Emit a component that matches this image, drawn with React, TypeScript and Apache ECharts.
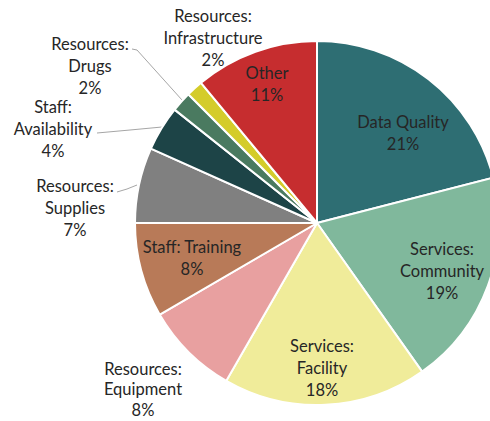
import React, { useEffect, useRef } from "react";
import * as echarts from "echarts";

const categories = [
  "Data Quality",
  "Services:\nCommunity",
  "Services:\nFacility",
  "Resources:\nEquipment",
  "Staff: Training",
  "Resources:\nSupplies",
  "Staff:\nAvailability",
  "Resources:\nDrugs",
  "Resources:\nInfrastructure",
  "Other",
];
const values = [21.0, 19.2, 18.1, 8.3, 8.4, 6.7, 4.0, 1.8, 1.5, 11.0];
const colors = [
  "#2E6E73",
  "#80B89C",
  "#F0EC9A",
  "#E8A0A0",
  "#B87A58",
  "#808080",
  "#1D4447",
  "#4A7A60",
  "#D4CC2A",
  "#C62D2F",
];
const outsideLabel = [false, false, false, true, false, true, true, true, true, false];

// label layout (block centres), line heights and leader lines
const labelPos: [number, number][] = [
  [403, 133],
  [442, 271],
  [322, 368],
  [143, 389],
  [192, 258],
  [75, 208],
  [53, 129],
  [90, 66],
  [213, 38],
  [267, 84],
];
const labelLineHeight = [22, 22, 22, 20.5, 22, 22, 22, 22, 22, 22];
const leaderLines: Record<number, [number, number][]> = {
  5: [[137, 185], [127, 189], [117, 192]],
  6: [[162, 127], [130, 130], [97, 133]],
  7: [[182, 100], [137, 50], [132, 49]],
};

export default function App() {
  const ref = useRef<HTMLDivElement>(null);
  useEffect(() => {
    if (!ref.current) return;
    const chart = echarts.init(ref.current, null, { renderer: "svg" });
    chart.setOption({
      animation: false,
      series: [
        {
          type: "pie",
          center: [317, 223],
          radius: [0, 182],
          startAngle: 90,
          clockwise: true,
          avoidLabelOverlap: false,
          itemStyle: { borderColor: "#ffffff", borderWidth: 2 },
          label: {
            fontFamily: "Lato, 'Noto Sans', sans-serif",
            fontSize: 16.5,
            lineHeight: 22,
            color: "#262626",
            align: "center",
            formatter: (p: any) => `${p.name}\n${Math.round(p.value)}%`,
          },
          labelLine: {
            show: true,
            lineStyle: { color: "#A6A6A6", width: 1 },
          },
          labelLayout: (params: any) => {
            const i = params.dataIndex;
            const [x, y] = labelPos[i];
            const res: any = { x, y, align: "center", verticalAlign: "middle" };
            if (leaderLines[i]) res.labelLinePoints = leaderLines[i];
            return res;
          },
          data: categories.map((name, i) => ({
            name,
            value: values[i],
            itemStyle: { color: colors[i] },
            label: {
              position: outsideLabel[i] ? "outside" : "inside",
              lineHeight: labelLineHeight[i],
            },
            labelLine: { show: !!leaderLines[i] },
          })),
        },
      ],
    });
    return () => chart.dispose();
  }, []);
  return (
    <div
      ref={ref}
      style={{ position: "fixed", left: 0, top: 0, width: 490, height: 421, background: "#fff" }}
    />
  );
}
